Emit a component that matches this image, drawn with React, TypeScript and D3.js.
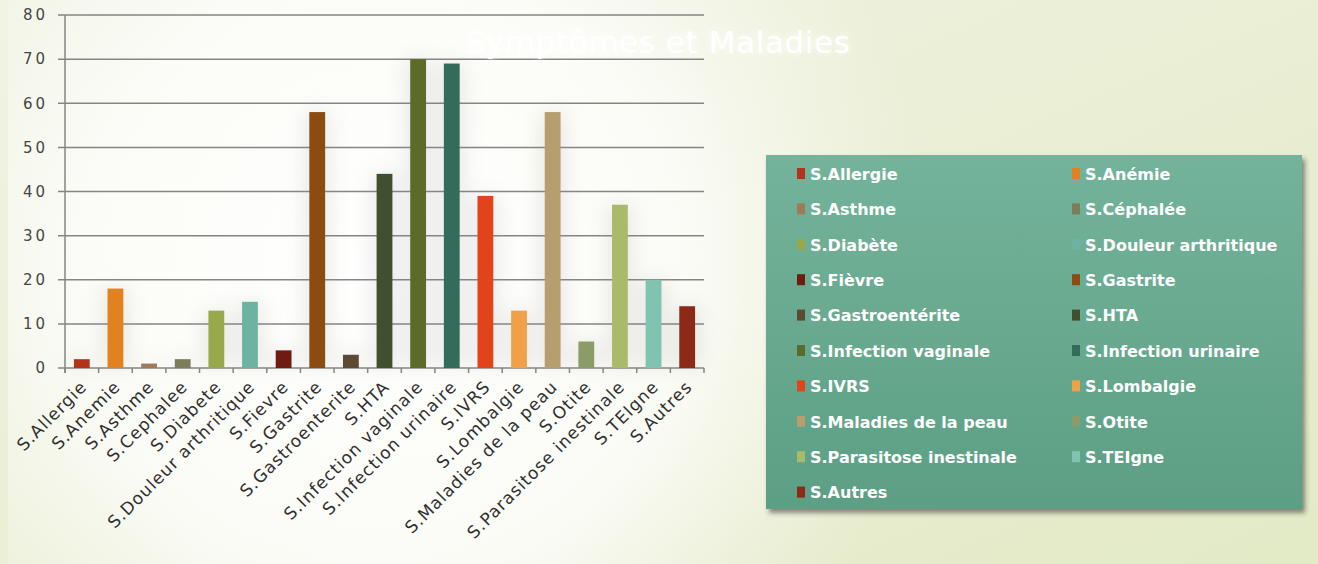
import React from "react";
import * as d3 from "d3";

const categories = [
  "S.Allergie", "S.Anémie", "S.Asthme", "S.Céphalée", "S.Diabète",
  "S.Douleur arthritique", "S.Fièvre", "S.Gastrite", "S.Gastroentérite", "S.HTA",
  "S.Infection vaginale", "S.Infection urinaire", "S.IVRS", "S.Lombalgie",
  "S.Maladies de la peau", "S.Otite", "S.Parasitose inestinale", "S.TEIgne", "S.Autres",
];
const axisLabels = [
  "S.Allergie", "S.Anemie", "S.Asthme", "S.Cephalee", "S.Diabete",
  "S.Douleur arthritique", "S.Fievre", "S.Gastrite", "S.Gastroenterite", "S.HTA",
  "S.Infection vaginale", "S.Infection urinaire", "S.IVRS", "S.Lombalgie",
  "S.Maladies de la peau", "S.Otite", "S.Parasitose inestinale", "S.TEIgne", "S.Autres",
];
const values = [2, 18, 1, 2, 13, 15, 4, 58, 3, 44, 70, 69, 39, 13, 58, 6, 37, 20, 14];
const colors = [
  "#b3321c", "#e2821f", "#9c7b5b", "#7b7d5c", "#98a94c",
  "#6eb3a2", "#6f1b12", "#8c4b10", "#5b4a34", "#3f4f30",
  "#5c6b29", "#356b5a", "#e1441a", "#f0a046", "#b89e6e",
  "#8c9c69", "#a9ba6b", "#82c2b1", "#8b2a17",
];
const yTicks = [0, 10, 20, 30, 40, 50, 60, 70, 80];
const title = "Symptômes et Maladies";

export default function App() {
  const W = 1318, H = 564;
  const x0 = 65, x1 = 704, yTop = 15, yBot = 368;
  const x = d3.scaleBand<string>().domain(categories).range([x0, x1]).paddingInner(0.53).paddingOuter(0.265);
  const slot = d3.scaleBand<string>().domain(categories).range([x0, x1]).padding(0);
  const y = d3.scaleLinear().domain([0, 80]).range([yBot, yTop]);

  const legX = 766, legY = 155, legW = 536, legH = 354;
  const colX = [797, 1072];
  const rowY0 = 174, rowStep = 35.4;

  return (
    <svg width={W} height={H} style={{ position: "absolute", left: 0, top: 0 }} xmlns="http://www.w3.org/2000/svg">
      <defs>
        <linearGradient id="bg" x1="0" y1="0" x2="1" y2="1">
          <stop offset="0" stopColor="#f1f3e4" />
          <stop offset="1" stopColor="#e3eac6" />
        </linearGradient>
        <radialGradient id="glow" cx="380" cy="270" r="560" gradientUnits="userSpaceOnUse">
          <stop offset="0" stopColor="#ffffff" stopOpacity="1" />
          <stop offset="0.55" stopColor="#fcfcf8" stopOpacity="0.95" />
          <stop offset="1" stopColor="#f6f7ec" stopOpacity="0" />
        </radialGradient>
        <linearGradient id="leg" x1="0" y1="0" x2="0" y2="1">
          <stop offset="0" stopColor="#74b39b" />
          <stop offset="1" stopColor="#5c9f84" />
        </linearGradient>
        <filter id="shadow" x="-5%" y="-5%" width="112%" height="115%">
          <feDropShadow dx="3" dy="4" stdDeviation="2.5" floodColor="#333" floodOpacity="0.55" />
        </filter>
        <filter id="barShadow" x="-150%" y="-10%" width="400%" height="120%">
          <feGaussianBlur stdDeviation="10" />
        </filter>
        <filter id="titleGlow" x="-10%" y="-30%" width="120%" height="160%">
          <feGaussianBlur stdDeviation="3" />
        </filter>
      </defs>
      <rect x={0} y={0} width={W} height={H} fill="url(#bg)" />
      <rect x={8} y={0} width={W - 8} height={H} fill="url(#glow)" />

      {/* soft bar shadows */}
      <g filter="url(#barShadow)" opacity={0.18}>
        {values.map((v, i) => (
          <rect key={"s" + i} x={(x(categories[i]) ?? 0) - 4} y={y(v)} width={x.bandwidth() + 8} height={yBot - y(v)} fill="#888" />
        ))}
      </g>

      {/* gridlines */}
      <g>
        {yTicks.map((t) => (
          <line key={t} x1={x0 - 7} x2={x1} y1={y(t)} y2={y(t)} stroke="#858585" strokeWidth={1.5} />
        ))}
        <line x1={x0} x2={x0} y1={yTop} y2={yBot + 5} stroke="#858585" strokeWidth={1.5} />
        {d3.range(categories.length + 1).map((i) => {
          const tx = i < categories.length ? (slot(categories[i]) ?? 0) : x1;
          return <line key={i} x1={tx} x2={tx} y1={yBot} y2={yBot + 5} stroke="#858585" strokeWidth={1.5} />;
        })}
      </g>

      {/* title */}
      <text x={658} y={53} textAnchor="middle" fontFamily="DejaVu Sans" fontSize={31} letterSpacing={0.6} fill="#ffffff" filter="url(#titleGlow)" opacity={0.9}>{title}</text>
      <text x={658} y={53} textAnchor="middle" fontFamily="DejaVu Sans" fontSize={31} letterSpacing={0.6} fill="#ffffff">{title}</text>

      {/* bars */}
      {values.map((v, i) => (
        <rect key={i} x={x(categories[i])} y={y(v)} width={x.bandwidth()} height={yBot - y(v)} fill={colors[i]} />
      ))}

      {/* y labels */}
      {yTicks.map((t) => (
        <text key={t} x={48} y={y(t)} dy="0.35em" textAnchor="end" fontFamily="DejaVu Sans" fontSize={15} letterSpacing={3} fill="#454545">{t}</text>
      ))}

      {/* x labels */}
      {axisLabels.map((lab, i) => {
        const cx = (x(categories[i]) ?? 0) + x.bandwidth() / 2 + 6;
        const cy = yBot + 20;
        return (
          <text key={lab} x={cx} y={cy} textAnchor="end" transform={`rotate(-45 ${cx} ${cy})`} fontFamily="DejaVu Sans" fontSize={17} letterSpacing={1} fill="#2f2f2f">{lab}</text>
        );
      })}

      {/* legend */}
      <rect x={legX} y={legY} width={legW} height={legH} fill="url(#leg)" filter="url(#shadow)" />
      {categories.map((c, i) => {
        const col = i % 2;
        const row = Math.floor(i / 2);
        const lx = colX[col];
        const ly = rowY0 + row * rowStep;
        return (
          <g key={c}>
            <rect x={lx} y={ly - 6} width={8} height={11} fill={colors[i]} />
            <text x={lx + 13} y={ly} dy="0.36em" fontFamily="DejaVu Sans" fontWeight="bold" fontSize={16} fill="#ffffff">{c}</text>
          </g>
        );
      })}
    </svg>
  );
}
